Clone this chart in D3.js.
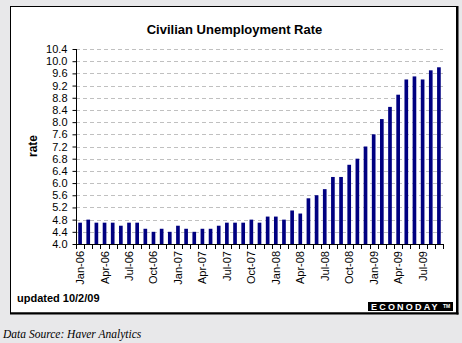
<!DOCTYPE html>
<html>
<head>
<meta charset="utf-8">
<script src="https://cdn.jsdelivr.net/npm/d3@7"></script>
<style>
  html, body { margin: 0; padding: 0; background: #e8e8ea; }
  svg { display: block; font-family: Arial, "Liberation Sans", sans-serif; }
</style>
</head>
<body>
<svg id="chart" width="462" height="343"></svg>
<script>
// ---- Data ----
const months = [
  "Jan-06","Feb-06","Mar-06","Apr-06","May-06","Jun-06","Jul-06","Aug-06","Sep-06","Oct-06","Nov-06","Dec-06",
  "Jan-07","Feb-07","Mar-07","Apr-07","May-07","Jun-07","Jul-07","Aug-07","Sep-07","Oct-07","Nov-07","Dec-07",
  "Jan-08","Feb-08","Mar-08","Apr-08","May-08","Jun-08","Jul-08","Aug-08","Sep-08","Oct-08","Nov-08","Dec-08",
  "Jan-09","Feb-09","Mar-09","Apr-09","May-09","Jun-09","Jul-09","Aug-09","Sep-09"
];
const rates = [
  4.7,4.8,4.7,4.7,4.7,4.6,4.7,4.7,4.5,4.4,4.5,4.4,
  4.6,4.5,4.4,4.5,4.5,4.6,4.7,4.7,4.7,4.8,4.7,4.9,
  4.9,4.8,5.1,5.0,5.5,5.6,5.8,6.2,6.2,6.6,6.8,7.2,
  7.6,8.1,8.5,8.9,9.4,9.5,9.4,9.7,9.8
];
const xTickLabels = ["Jan-06","Apr-06","Jul-06","Oct-06","Jan-07","Apr-07","Jul-07","Oct-07",
                     "Jan-08","Apr-08","Jul-08","Oct-08","Jan-09","Apr-09","Jul-09"];
const yTicks = [4.0,4.4,4.8,5.2,5.6,6.0,6.4,6.8,7.2,7.6,8.0,8.4,8.8,9.2,9.6,10.0,10.4];
const title = "Civilian Unemployment Rate";
const yLabel = "rate";
const updatedText = "updated 10/2/09";
const sourceText = "Data Source: Haver Analytics";

(function () {
// ---- Layout ----
const svg = d3.select("#chart");
const pLeft = 76, pRight = 443, pTop = 49, pBottom = 244;

// panel
svg.append("rect").attr("x", 10.5).attr("y", 6.5).attr("width", 446).attr("height", 306.5)
  .attr("fill", "#fff").attr("stroke", "#000").attr("stroke-width", 1);
svg.append("line").attr("x1", 457.5).attr("x2", 457.5).attr("y1", 6).attr("y2", 314.5)
  .attr("stroke", "#000").attr("stroke-width", 2);
svg.append("line").attr("x1", 10).attr("x2", 458.5).attr("y1", 313.5).attr("y2", 313.5)
  .attr("stroke", "#000").attr("stroke-width", 2);

const x = d3.scaleBand().domain(months).range([pLeft, pRight]).paddingInner(0.55).paddingOuter(0.275);
const y = d3.scaleLinear().domain([4.0, 10.4]).range([pBottom, pTop]);

// gridlines
svg.append("g").selectAll("line").data(yTicks.filter(d => d > 4.0)).join("line")
  .attr("x1", pLeft).attr("x2", pRight)
  .attr("y1", d => Math.round(y(d)) + 0.5).attr("y2", d => Math.round(y(d)) + 0.5)
  .attr("stroke", "#c0c0c0").attr("stroke-width", 1).attr("stroke-dasharray", "4,3");

// bars
svg.append("g").selectAll("rect").data(rates).join("rect")
  .attr("x", (d, i) => x(months[i]))
  .attr("width", x.bandwidth())
  .attr("y", d => y(d))
  .attr("height", d => y(4.0) - y(d))
  .attr("fill", "#000080");

// y axis
const yAxis = d3.axisLeft(y).tickValues(yTicks).tickFormat(d3.format(".1f")).tickSize(4).tickPadding(5);
const gy = svg.append("g").attr("transform", `translate(${pLeft + 0.5},0)`).call(yAxis);
gy.select(".domain").remove();
gy.append("line").attr("x1", 0).attr("x2", 0).attr("y1", pTop).attr("y2", pBottom).attr("stroke", "#000");
gy.selectAll("text").attr("font-size", 11).attr("fill", "#000").attr("font-family", "Arial, 'Liberation Sans', sans-serif");
gy.selectAll(".tick line").attr("stroke", "#000");

// x axis line
svg.append("line").attr("x1", pLeft).attr("x2", pRight + 0.5).attr("y1", pBottom + 0.5).attr("y2", pBottom + 0.5)
  .attr("stroke", "#000");
// x ticks at category boundaries
const step = x.step();
const boundaries = months.map(m => x(m) - (step - x.bandwidth()) / 2).concat([pRight]);
svg.append("g").selectAll("line").data(boundaries).join("line")
  .attr("x1", d => Math.round(d) + 0.5).attr("x2", d => Math.round(d) + 0.5)
  .attr("y1", pBottom).attr("y2", pBottom + 5)
  .attr("stroke", "#000");
// x labels
svg.append("g").selectAll("text").data(xTickLabels).join("text")
  .attr("transform", d => `translate(${x(d) + x.bandwidth() / 2 + 4},251) rotate(-90)`)
  .attr("text-anchor", "end")
  .attr("font-size", 11)
  .text(d => d);

// title
svg.append("text").attr("x", 234.5).attr("y", 34).attr("text-anchor", "middle")
  .attr("font-size", 13).attr("font-weight", "bold").text(title);

// y label
svg.append("text").attr("transform", "translate(37,146) rotate(-90)").attr("text-anchor", "middle")
  .attr("font-size", 12).attr("font-weight", "bold").text(yLabel);

// updated
svg.append("text").attr("x", 17).attr("y", 302).attr("font-size", 11).attr("font-weight", "bold").text(updatedText);

// Econoday logo
svg.append("rect").attr("x", 368).attr("y", 302).attr("width", 85).attr("height", 9).attr("fill", "#000");
svg.append("text").attr("x", 371).attr("y", 310).attr("font-size", 9).attr("font-weight", "bold")
  .attr("fill", "#fff").attr("letter-spacing", 2.2).text("ECONODAY");
svg.append("text").attr("x", 443).attr("y", 307.5).attr("font-size", 5).attr("font-weight", "bold")
  .attr("fill", "#fff").text("TM");

// data source
svg.append("text").attr("x", 3).attr("y", 338).attr("font-size", 11.5).attr("font-style", "italic")
  .attr("font-family", "'Times New Roman', 'Liberation Serif', serif").text(sourceText);
})();
</script>
</body>
</html>
